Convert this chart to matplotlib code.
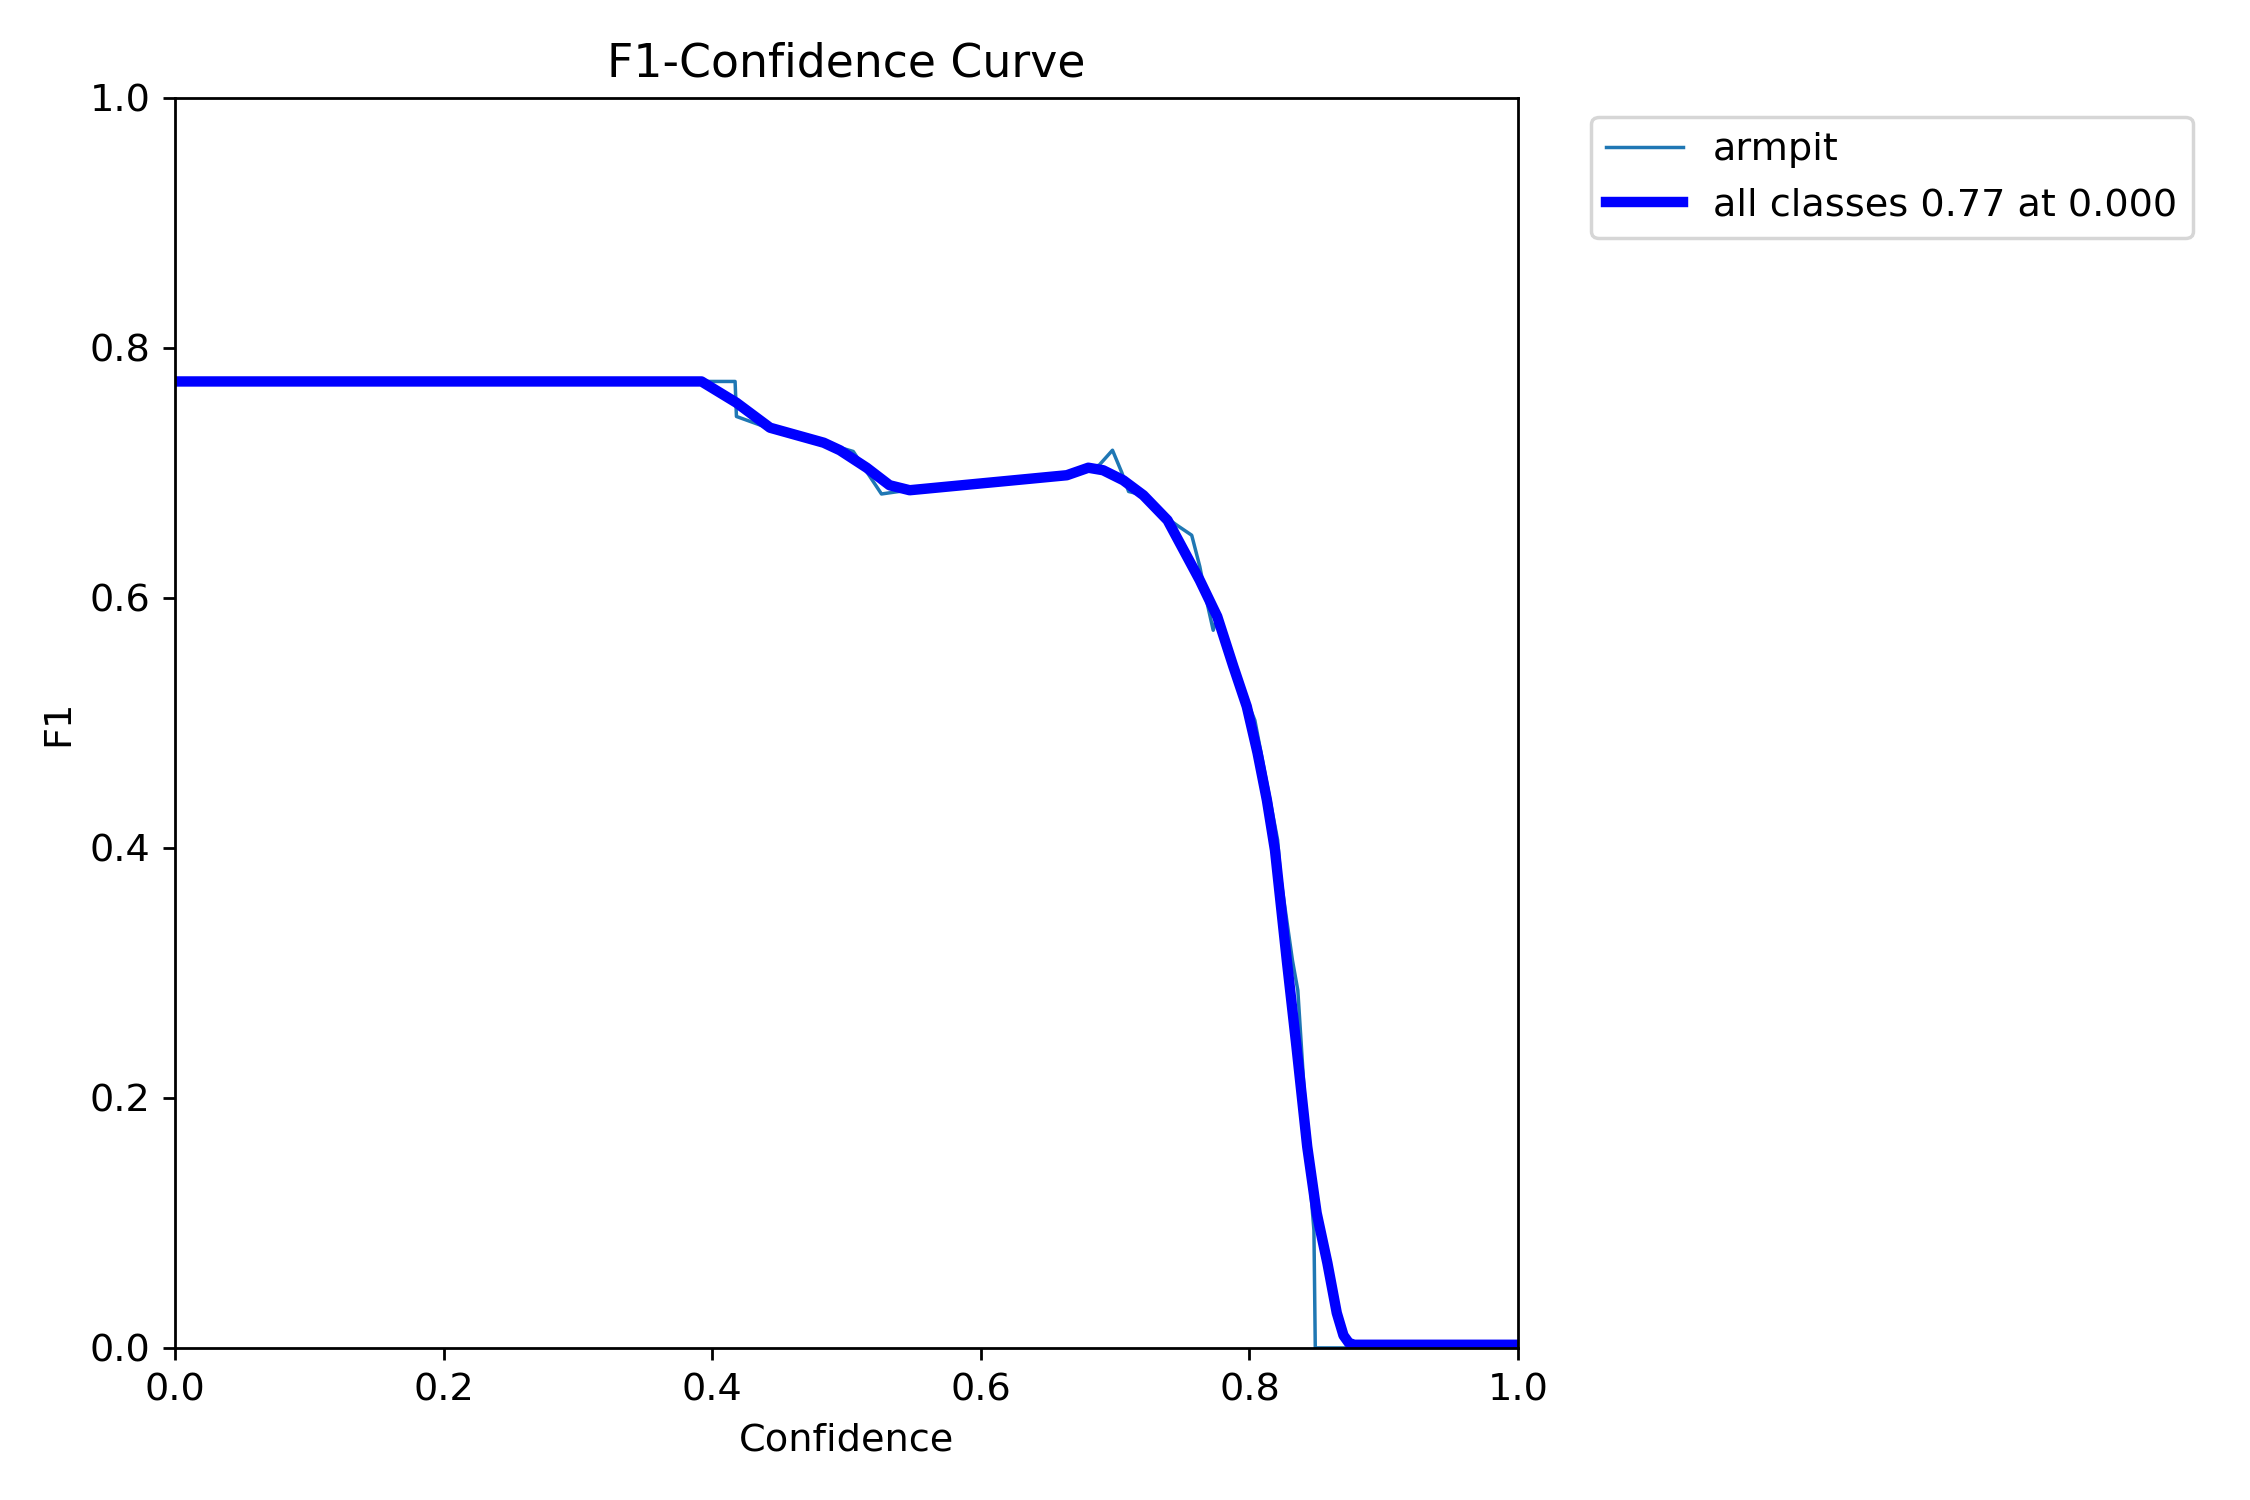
import numpy as np
import matplotlib
matplotlib.use('Agg')
import matplotlib.pyplot as plt

plt.rcParams['font.size'] = 11

# per-class F1 curve (armpit)
armpit_conf = [0.000, 0.417, 0.418, 0.436, 0.443, 0.483, 0.505, 0.526, 0.539,
               0.547, 0.664, 0.680, 0.688, 0.698, 0.705, 0.710, 0.721, 0.737,
               0.746, 0.757, 0.763, 0.768, 0.773, 0.776, 0.788, 0.804, 0.821,
               0.823, 0.832, 0.836, 0.845, 0.848, 0.849, 1.000]
armpit_f1 = [0.773, 0.773, 0.745, 0.738, 0.736, 0.724, 0.717, 0.683, 0.685,
             0.686, 0.698, 0.704, 0.706, 0.718, 0.700, 0.685, 0.682, 0.665,
             0.658, 0.650, 0.625, 0.598, 0.574, 0.585, 0.545, 0.502, 0.406,
             0.378, 0.310, 0.286, 0.134, 0.094, 0.000, 0.000]

# smoothed mean curve (all classes)
all_conf = [0.000, 0.392, 0.418, 0.443, 0.483, 0.495, 0.515, 0.532, 0.547,
            0.664, 0.680, 0.691, 0.706, 0.721, 0.739, 0.751, 0.763, 0.776,
            0.788, 0.798, 0.806, 0.813, 0.819, 0.823, 0.828, 0.835, 0.843,
            0.850, 0.858, 0.865, 0.870, 0.874, 0.878, 1.000]
all_f1 = [0.773, 0.773, 0.756, 0.736, 0.724, 0.718, 0.704, 0.690, 0.686,
          0.698, 0.704, 0.702, 0.694, 0.682, 0.662, 0.638, 0.614, 0.585,
          0.545, 0.513, 0.476, 0.438, 0.398, 0.358, 0.308, 0.241, 0.161,
          0.108, 0.068, 0.028, 0.010, 0.004, 0.0025, 0.0025]

names = ['armpit']
best_f1, best_conf = 0.77, 0.000

fig, ax = plt.subplots(1, 1, figsize=(9, 6))
fig.subplots_adjust(left=0.0778, right=0.6747, bottom=0.1014, top=0.9349)
ax.plot(armpit_conf, armpit_f1, linewidth=1, label=names[0])
ax.plot(all_conf, all_f1, linewidth=3, color='blue',
        label=f'all classes {best_f1:.2f} at {best_conf:.3f}')
ax.set_xlabel('Confidence')
ax.set_ylabel('F1')
ax.set_xlim(0, 1)
ax.set_ylim(0, 1)
ax.legend(bbox_to_anchor=(1.04, 1), loc='upper left')
ax.set_title('F1-Confidence Curve')
fig.savefig('out.png', dpi=250)
